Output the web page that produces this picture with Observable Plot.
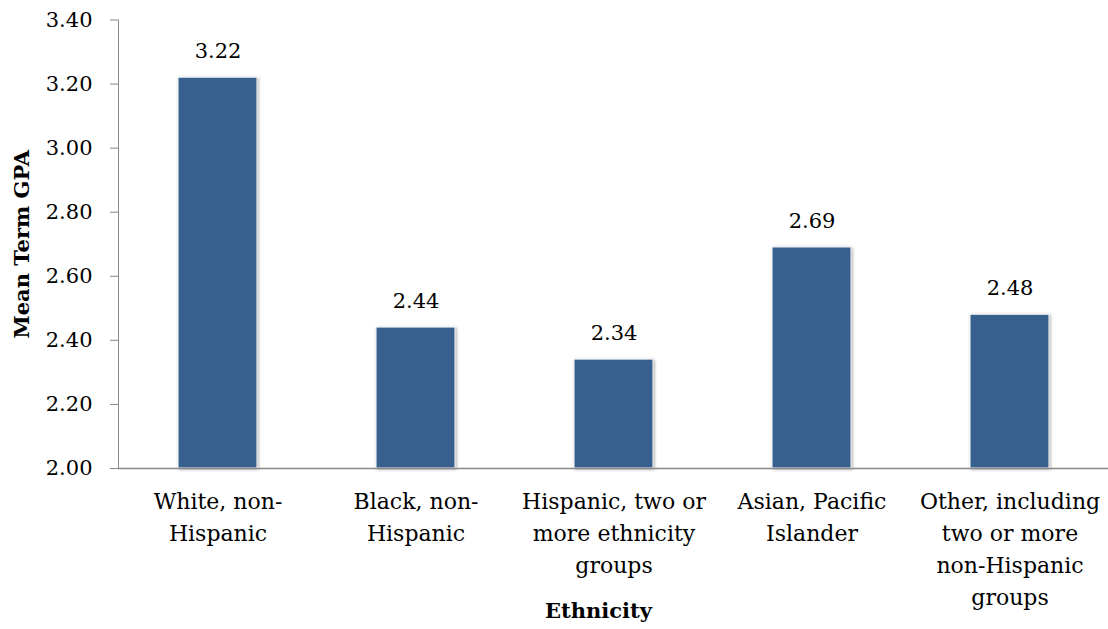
<!DOCTYPE html>
<html>
<head>
<meta charset="utf-8">
<script src="https://cdn.jsdelivr.net/npm/d3@7"></script>
<script src="https://cdn.jsdelivr.net/npm/@observablehq/plot@0.6"></script>
<style>
  html, body { margin: 0; padding: 0; background: #fff; }
  #chart svg { display: block; }
</style>
</head>
<body>
<div id="chart"></div>
<script>
const categories = [
  "White, non-Hispanic",
  "Black, non-Hispanic",
  "Hispanic, two or more ethnicity groups",
  "Asian, Pacific Islander",
  "Other, including two or more non-Hispanic groups"
];
const categoryLabels = [
  "White, non-\nHispanic",
  "Black, non-\nHispanic",
  "Hispanic, two or\nmore ethnicity\ngroups",
  "Asian, Pacific\nIslander",
  "Other, including\ntwo or more\nnon-Hispanic\ngroups"
];
const meanGPA = [3.22, 2.44, 2.34, 2.69, 2.48];
const yTicks = [2.0, 2.2, 2.4, 2.6, 2.8, 3.0, 3.2, 3.4];
const yTitle = "Mean Term GPA";
const xTitle = "Ethnicity";

const data = categories.map((c, i) => ({ category: c, label: categoryLabels[i], value: meanGPA[i] }));
const labelOf = new Map(data.map(d => [d.category, d.label]));

const font = "DejaVu Serif, serif";
const axisColor = "#888888";

const chart = Plot.plot({
  width: 1108,
  height: 629,
  marginTop: 19.5,
  marginBottom: 161,
  marginLeft: 118,
  marginRight: -2,
  style: { fontFamily: font, fontSize: "21px", color: "#000", background: "#fff", overflow: "visible" },
  x: { domain: categories, paddingInner: 0.6, paddingOuter: 0.3, label: null },
  y: { domain: [2.0, 3.4], label: null },
  marks: [
    Plot.barY(data, { x: "category", y1: 2.0, y2: "value", fill: "#38608F", stroke: "#ffffff", strokeWidth: 1 }),
    Plot.text(data, { x: "category", y: "value", text: d => d3.format(".2f")(d.value), dy: -26, fontSize: 21, fill: "#000" }),
    Plot.axisY({ ticks: yTicks, tickFormat: d3.format(".2f"), tickSize: 8, tickPadding: 18, stroke: axisColor, fill: "#000", fontSize: 21, label: null }),
    Plot.axisX({ tickFormat: c => labelOf.get(c), tickSize: 0, tickPadding: 18, lineHeight: 1.45, fontSize: 22, fill: "#000", label: null }),
    Plot.frame({ anchor: "left", stroke: axisColor }),
    Plot.ruleY([2.0], { stroke: axisColor, strokeWidth: 1.5 }),
    Plot.text([xTitle], { frameAnchor: "bottom", dy: 149, dx: -16, fontWeight: "bold", fontSize: 21, fill: "#000" }),
    Plot.text([yTitle], { frameAnchor: "left", textAnchor: "middle", dx: -96, rotate: -90, fontWeight: "bold", fontSize: 21, fill: "#000" })
  ]
});

d3.select(chart).selectAll("g[aria-label=bar] rect").style("filter", "drop-shadow(1.5px 1px 1.5px rgba(0,0,0,0.35))");
document.getElementById("chart").appendChild(chart);
</script>
</body>
</html>
